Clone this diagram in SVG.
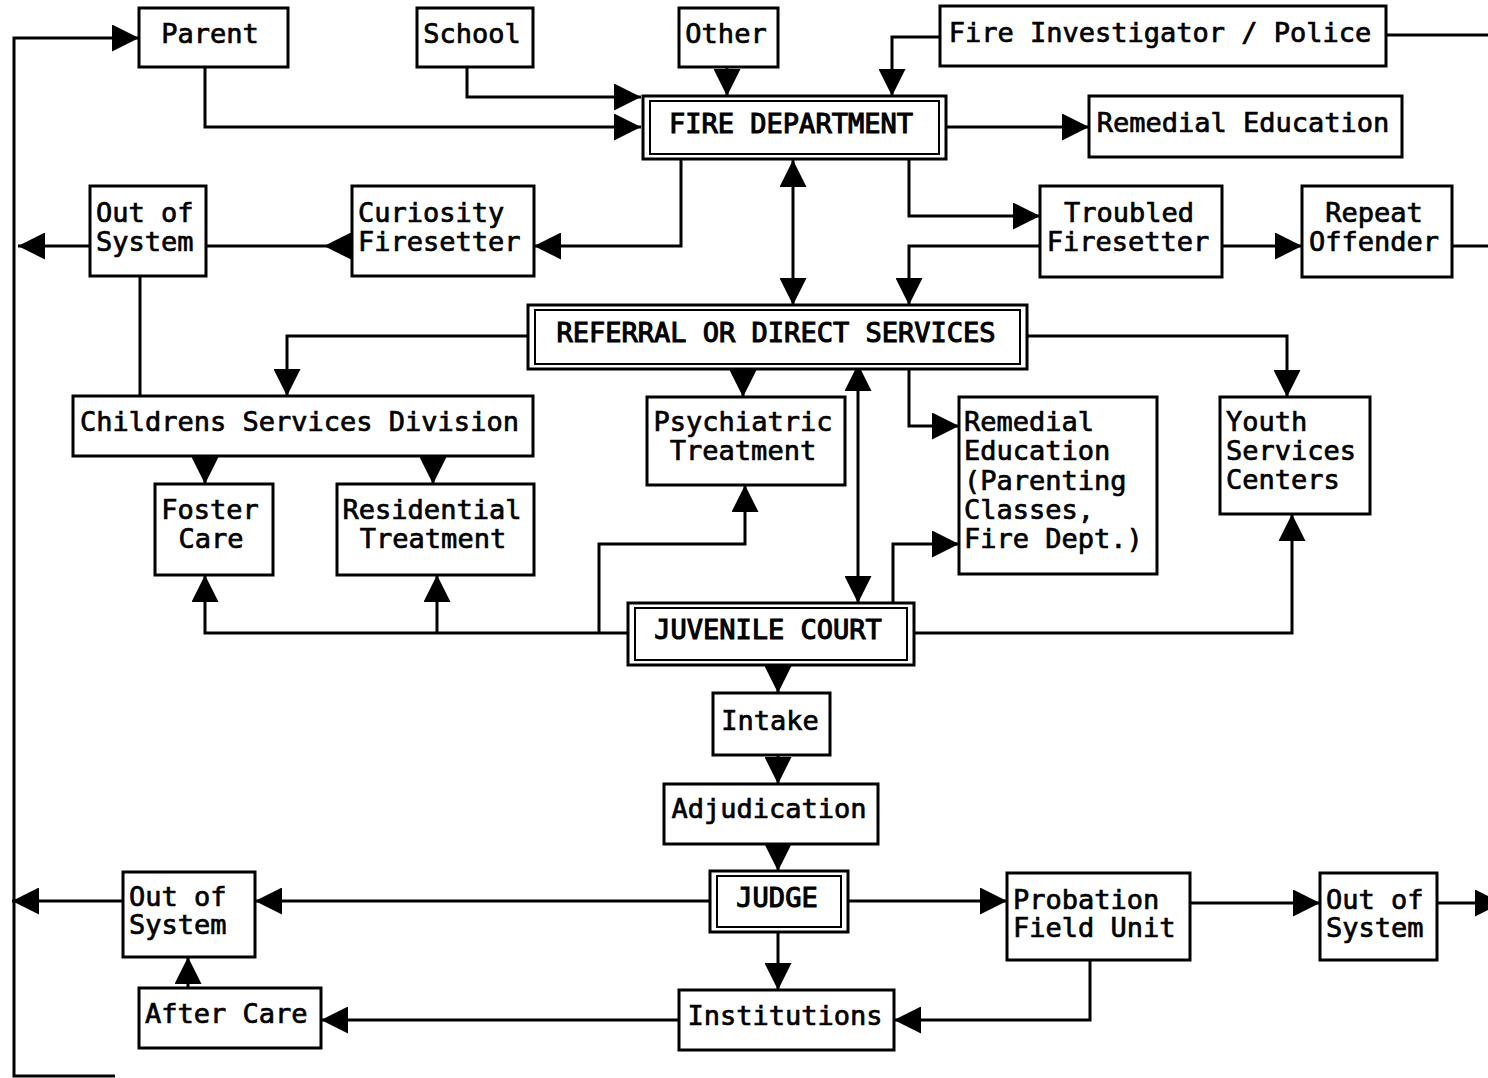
<svg xmlns="http://www.w3.org/2000/svg" width="1488" height="1078" viewBox="0 0 1488 1078">
<style>
  .box { fill: #fff; stroke: #000; stroke-width: 3; }
  .inner { fill: none; stroke: #000; stroke-width: 2; }
  .t { font-family: "DejaVu Sans Mono", "Liberation Mono", monospace; font-size: 27px; fill: #000; stroke: #000; stroke-width: 0.7; }
  .c { text-anchor: middle; }
  .b { stroke-width: 1.1; }
  .ln { fill: none; stroke: #000; stroke-width: 3; }
</style>
<defs>
  <marker id="ah" markerUnits="userSpaceOnUse" markerWidth="27" markerHeight="27" refX="24" refY="12" orient="auto-start-reverse" viewBox="0 0 24 24">
    <path d="M0,0 L24,12 L0,24 z" fill="#000"/>
  </marker>
  <marker id="ahb" markerUnits="userSpaceOnUse" markerWidth="27" markerHeight="27" refX="0" refY="12" orient="auto" viewBox="0 0 24 24">
    <path d="M0,0 L24,12 L0,24 z" fill="#000"/>
  </marker>
</defs>
<rect width="1488" height="1078" fill="#fff"/>

<g id="connectors">
  <path class="ln" d="M115 1076 L14 1076 L14 38 L139 38" marker-end="url(#ah)"/>
  <path class="ln" d="M90 246 L18 246" marker-end="url(#ah)"/>
  <path class="ln" d="M351 246 L206 246" marker-start="url(#ahb)"/>
  <path class="ln" d="M205 67 L205 127 L641 127" marker-end="url(#ah)"/>
  <path class="ln" d="M467 67 L467 97 L641 97" marker-end="url(#ah)"/>
  <path class="ln" d="M727 67 L727 96" marker-end="url(#ah)"/>
  <path class="ln" d="M940 37 L892 37 L892 96" marker-end="url(#ah)"/>
  <path class="ln" d="M946 127 L1089 127" marker-end="url(#ah)"/>
  <path class="ln" d="M681 159 L681 246 L534 246" marker-end="url(#ah)"/>
  <path class="ln" d="M793 160 L793 305" marker-start="url(#ah)" marker-end="url(#ah)"/>
  <path class="ln" d="M909 159 L909 216 L1040 216" marker-end="url(#ah)"/>
  <path class="ln" d="M1040 246 L909 246 L909 305" marker-end="url(#ah)"/>
  <path class="ln" d="M1222 246 L1302 246" marker-end="url(#ah)"/>
  <path class="ln" d="M1452 246 L1488 246"/>
  <path class="ln" d="M1386 35 L1488 35"/>
  <path class="ln" d="M528 336 L287 336 L287 396" marker-end="url(#ah)"/>
  <path class="ln" d="M140 276 L140 396"/>
  <path class="ln" d="M743 369 L743 397" marker-end="url(#ah)"/>
  <path class="ln" d="M858 364 L858 603" marker-start="url(#ah)" marker-end="url(#ah)"/>
  <path class="ln" d="M909 369 L909 426 L959 426" marker-end="url(#ah)"/>
  <path class="ln" d="M1027 336 L1287 336 L1287 397" marker-end="url(#ah)"/>
  <path class="ln" d="M205 456 L205 484" marker-end="url(#ah)"/>
  <path class="ln" d="M433 456 L433 484" marker-end="url(#ah)"/>
  <path class="ln" d="M628 633 L205 633 L205 575" marker-end="url(#ah)"/>
  <path class="ln" d="M437 633 L437 575" marker-end="url(#ah)"/>
  <path class="ln" d="M599 633 L599 544 L745 544 L745 485" marker-end="url(#ah)"/>
  <path class="ln" d="M893 603 L893 544 L959 544" marker-end="url(#ah)"/>
  <path class="ln" d="M914 633 L1292 633 L1292 514" marker-end="url(#ah)"/>
  <path class="ln" d="M778 665 L778 693" marker-end="url(#ah)"/>
  <path class="ln" d="M778 755 L778 784" marker-end="url(#ah)"/>
  <path class="ln" d="M778 844 L778 871" marker-end="url(#ah)"/>
  <path class="ln" d="M710 901 L255 901" marker-end="url(#ah)"/>
  <path class="ln" d="M123 901 L12 901" marker-end="url(#ah)"/>
  <path class="ln" d="M848 901 L1007 901" marker-end="url(#ah)"/>
  <path class="ln" d="M1190 903 L1320 903" marker-end="url(#ah)"/>
  <path class="ln" d="M1437 903 L1502 903" marker-end="url(#ah)"/>
  <path class="ln" d="M778 932 L778 990" marker-end="url(#ah)"/>
  <path class="ln" d="M1090 960 L1090 1020 L894 1020" marker-end="url(#ah)"/>
  <path class="ln" d="M679 1020 L321 1020" marker-end="url(#ah)"/>
  <path class="ln" d="M188 988 L188 957" marker-end="url(#ah)"/>
</g>

<g id="parent"><rect class="box" x="139" y="8" width="149" height="59"/><text class="t c" x="210" y="43">Parent</text></g>
<g id="school"><rect class="box" x="417" y="8" width="116" height="59"/><text class="t c" x="472" y="43">School</text></g>
<g id="other"><rect class="box" x="679" y="8" width="99" height="59"/><text class="t c" x="726" y="43">Other</text></g>
<g id="fire-investigator"><rect class="box" x="940" y="6" width="446" height="60"/><text class="t c" x="1160" y="42">Fire Investigator / Police</text></g>

<g id="fire-department"><rect class="box" x="643" y="96" width="303" height="63"/><rect class="inner" x="650" y="101" width="289" height="53"/><text class="t c b" x="791" y="133">FIRE DEPARTMENT</text></g>
<g id="remedial-education"><rect class="box" x="1089" y="96" width="313" height="61"/><text class="t c" x="1243" y="132">Remedial Education</text></g>

<g id="out-of-system-top"><rect class="box" x="90" y="186" width="116" height="90"/><text class="t" x="96" y="222">Out of</text><text class="t" x="96" y="251">System</text></g>
<g id="curiosity-firesetter"><rect class="box" x="352" y="186" width="182" height="90"/><text class="t" x="358" y="222">Curiosity</text><text class="t" x="358" y="251">Firesetter</text></g>
<g id="troubled-firesetter"><rect class="box" x="1040" y="186" width="182" height="91"/><text class="t c" x="1129" y="222">Troubled</text><text class="t c" x="1128" y="251">Firesetter</text></g>
<g id="repeat-offender"><rect class="box" x="1302" y="186" width="150" height="91"/><text class="t c" x="1374" y="222">Repeat</text><text class="t c" x="1374" y="251">Offender</text></g>

<g id="referral"><rect class="box" x="528" y="305" width="499" height="64"/><rect class="inner" x="535" y="310" width="485" height="54"/><text class="t c b" x="776" y="342">REFERRAL OR DIRECT SERVICES</text></g>

<g id="childrens-services"><rect class="box" x="73" y="396" width="460" height="60"/><text class="t" x="80" y="431">Childrens Services Division</text></g>
<g id="psychiatric"><rect class="box" x="647" y="397" width="198" height="88"/><text class="t c" x="743" y="431">Psychiatric</text><text class="t c" x="743" y="460">Treatment</text></g>
<g id="remedial-education-2"><rect class="box" x="959" y="397" width="198" height="177"/><text class="t" x="964" y="431">Remedial</text><text class="t" x="964" y="460">Education</text><text class="t" x="964" y="490">(Parenting</text><text class="t" x="964" y="519">Classes,</text><text class="t" x="964" y="548">Fire Dept.)</text></g>
<g id="youth-services"><rect class="box" x="1220" y="397" width="150" height="117"/><text class="t" x="1226" y="431">Youth</text><text class="t" x="1226" y="460">Services</text><text class="t" x="1226" y="489">Centers</text></g>

<g id="foster-care"><rect class="box" x="155" y="484" width="118" height="91"/><text class="t c" x="210" y="519">Foster</text><text class="t c" x="211" y="548">Care</text></g>
<g id="residential"><rect class="box" x="337" y="484" width="197" height="91"/><text class="t c" x="432" y="519">Residential</text><text class="t c" x="433" y="548">Treatment</text></g>

<g id="juvenile-court"><rect class="box" x="628" y="603" width="286" height="62"/><rect class="inner" x="635" y="608" width="272" height="52"/><text class="t c b" x="768" y="639">JUVENILE COURT</text></g>
<g id="intake"><rect class="box" x="713" y="693" width="117" height="62"/><text class="t c" x="770" y="730">Intake</text></g>
<g id="adjudication"><rect class="box" x="664" y="784" width="214" height="60"/><text class="t c" x="769" y="818">Adjudication</text></g>
<g id="judge"><rect class="box" x="710" y="871" width="138" height="61"/><rect class="inner" x="717" y="876" width="124" height="51"/><text class="t c b" x="777" y="907">JUDGE</text></g>

<g id="out-of-system-left"><rect class="box" x="123" y="872" width="132" height="85"/><text class="t" x="129" y="906">Out of</text><text class="t" x="129" y="934">System</text></g>
<g id="probation"><rect class="box" x="1007" y="873" width="183" height="87"/><text class="t" x="1013" y="909">Probation</text><text class="t" x="1013" y="937">Field Unit</text></g>
<g id="out-of-system-right"><rect class="box" x="1320" y="873" width="117" height="87"/><text class="t" x="1326" y="909">Out of</text><text class="t" x="1326" y="937">System</text></g>
<g id="after-care"><rect class="box" x="139" y="988" width="182" height="60"/><text class="t" x="145" y="1023">After Care</text></g>
<g id="institutions"><rect class="box" x="679" y="990" width="215" height="60"/><text class="t c" x="785" y="1025">Institutions</text></g>
</svg>
